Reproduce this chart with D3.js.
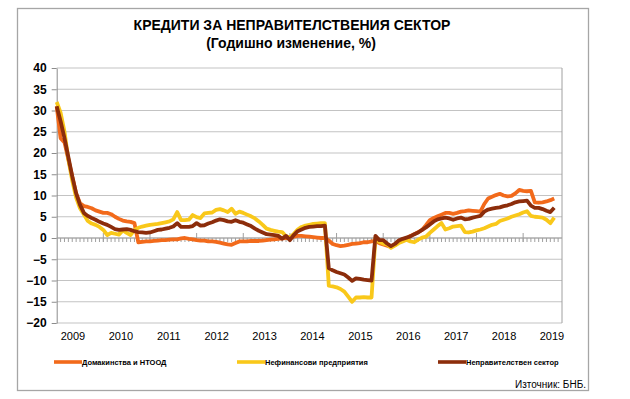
<!DOCTYPE html>
<meta charset="utf-8">
<head>
  <script src="https://d3js.org/d3.v7.min.js"></script>
  <style>
    body { margin: 0; background: #fff; }
    text { font-family: "Liberation Sans", Arial, sans-serif; }
  </style>
</head>
<body>
  <svg id="root"></svg>
  <script>
    // monthly data, Jan 2009 .. Sep 2019 (annual change, %)
    const startYear = 2009;
    const years = ["2009", "2010", "2011", "2012", "2013", "2014", "2015", "2016", "2017", "2018", "2019"];
    const yTicks = [-20, -15, -10, -5, 0, 5, 10, 15, 20, 25, 30, 35, 40];

    const households = [
      31, 23.5, 22.5, 18.5, 14.5, 10.5, 8.2, 7.5, 7.3, 7.0, 6.5, 6.2,
      5.9, 5.9, 5.6, 5.0, 4.5, 4.1, 3.9, 3.8, 3.5, -1.0, -0.9, -0.8,
      -0.8, -0.7, -0.6, -0.5, -0.5, -0.4, -0.3, -0.3, -0.1, 0.0, -0.2, -0.3,
      -0.5, -0.6, -0.6, -0.8, -0.8, -0.9, -1.1, -1.3, -1.5, -1.6, -1.2, -0.8,
      -0.8, -0.8, -0.7, -0.7, -0.7, -0.6, -0.5, -0.4, -0.3, -0.2, -0.1, 0.0,
      0.1, 0.3, 0.5, 0.5, 0.4, 0.3, 0.2, 0.1, 0.0, 0.0, -0.6, -1.4,
      -1.7, -1.9, -1.8, -1.6, -1.4, -1.3, -1.2, -1.0, -1.0, -0.8, -0.7, -1.2,
      -1.5, -1.8, -2.1, -1.6, -0.9, -0.6, -0.2, 0.5, 0.9, 1.4, 1.9, 3.0,
      4.2, 4.7, 5.1, 5.5, 5.9, 5.9, 5.7, 5.9, 6.2, 6.3, 6.5, 6.4,
      6.3, 6.2, 8.0, 9.3, 9.7, 10.1, 10.4, 10.0, 9.8, 9.9, 10.5, 11.3,
      11.1, 11.0, 11.1, 8.4, 8.3, 8.4, 8.6, 8.9, 9.3
    ];
    const corporates = [
      32, 29.5, 25, 18.5, 13.5, 9.5, 7.0, 5.5, 4.0, 3.4, 3.1, 2.6,
      1.9, 0.7, 1.2, 1.0, 0.8, 1.8, 1.2, 0.7, 1.9, 2.4, 2.7, 2.9,
      3.1, 3.2, 3.3, 3.5, 3.7, 3.9, 4.4, 6.1, 4.2, 4.2, 4.3, 5.4,
      4.9, 4.7, 5.8, 5.9, 6.0, 6.6, 6.8, 6.5, 6.1, 6.9, 5.7, 6.2,
      5.9, 5.5, 5.1, 4.6, 3.9, 3.1, 2.2, 1.9, 1.7, 1.5, 1.4, 0.4,
      0.1, 1.0, 2.0, 2.6, 2.9, 3.1, 3.3, 3.4, 3.5, 3.5, -11.2, -11.4,
      -11.6, -12.0, -12.6, -13.8, -15.0, -14.0, -14.0, -13.9, -14.0, -14.0, 0.0, -0.9,
      -1.3, -1.5, -2.3, -1.8, -1.2, -0.8, -0.4, -0.8, -1.0, -0.4, 0.1, 0.3,
      1.2, 2.0, 2.8, 3.5, 2.0, 2.3, 2.7, 2.8, 2.9, 1.4, 1.3, 1.5,
      1.8, 2.0, 2.3, 2.7, 3.1, 3.3, 4.0, 4.3, 4.6, 5.0, 5.3, 5.6,
      6.0, 6.3, 5.2, 5.0, 4.9, 4.8, 4.3, 3.5, 4.8
    ];
    const nonGov = [
      31, 27.5, 23.5, 19, 14.5, 10.5, 7.8, 5.9, 5.2, 4.7, 4.3, 3.8,
      3.4, 3.1, 2.6, 2.1, 1.9, 2.0, 2.1, 1.9, 1.6, 1.4, 1.3, 1.2,
      1.3, 1.6, 1.9, 2.0, 2.2, 2.4, 2.7, 3.5, 2.6, 2.6, 2.6, 2.8,
      3.5, 2.9, 3.0, 3.4, 3.7, 4.1, 4.4, 4.2, 3.9, 3.8, 4.2, 3.8,
      3.6, 3.2, 2.8, 2.2, 1.7, 1.3, 0.9, 0.8, 0.7, 0.5, -0.2, 0.5,
      -0.5, 0.7, 1.6, 2.0, 2.4, 2.6, 2.7, 2.8, 2.8, 2.9, -7.1, -7.6,
      -8.0, -8.3, -8.6, -9.3, -10.1, -9.5, -9.6, -9.8, -9.9, -10.0, 0.5, -0.5,
      -0.5, -1.3, -1.9, -1.4, -0.6, -0.2, 0.1, 0.4, 0.9, 1.3, 1.9, 2.5,
      3.2, 3.9, 4.4, 4.6, 4.8, 4.6, 4.3, 4.6, 4.8, 4.4, 4.5, 4.8,
      5.0, 5.2, 6.2, 6.7, 6.9, 7.1, 7.2, 7.5, 7.7, 8.0, 8.4, 8.6,
      8.7, 8.8, 7.6, 7.1, 7.1, 6.8, 6.4, 6.1, 7.1
    ];

    const series = [
      { name: "Домакинства и НТООД", values: households, color: "#f26a1b" },
      { name: "Нефинансови предприятия", values: corporates, color: "#f9c81a" },
      { name: "Неправителствен сектор", values: nonGov, color: "#8c2d0b" }
    ];

    const W = 630, H = 399;
    const plot = { left: 56.7, right: 562, top: 68, bottom: 323 };

    const svg = d3.select("#root").attr("width", W).attr("height", H);

    // outer frame
    svg.append("rect")
      .attr("x", 17.5).attr("y", 8.5)
      .attr("width", 571).attr("height", 382)
      .attr("fill", "#fff")
      .attr("stroke", "#a6a6a6")
      .attr("stroke-width", 1.3);

    // title
    svg.append("text")
      .attr("x", 292).attr("y", 30)
      .attr("text-anchor", "middle")
      .style("font-size", "14px").style("font-weight", "bold")
      .text("КРЕДИТИ ЗА НЕПРАВИТЕЛСТВЕНИЯ СЕКТОР");
    svg.append("text")
      .attr("x", 291).attr("y", 48)
      .attr("text-anchor", "middle")
      .style("font-size", "14px").style("font-weight", "bold")
      .text("(Годишно изменение, %)");

    // scales: x is month index from Jan 2009
    const nMonths = 130;
    const x = d3.scaleLinear([0, nMonths], [plot.left, plot.right]);
    const y = d3.scaleLinear([-20, 40], [plot.bottom, plot.top]);
    const xLabel = d3.scalePoint(years, [73, 552]);

    // gridlines
    svg.append("g")
      .selectAll("line")
      .data(yTicks)
      .join("line")
      .attr("x1", plot.left).attr("x2", plot.right)
      .attr("y1", d => y(d)).attr("y2", d => y(d))
      .attr("stroke", "#c3c3c3")
      .attr("stroke-width", 1);

    // right border
    svg.append("line")
      .attr("x1", plot.right).attr("x2", plot.right)
      .attr("y1", plot.top).attr("y2", plot.bottom)
      .attr("stroke", "#a0a0a0");

    // y axis
    const yAxis = d3.axisLeft(y).tickValues(yTicks).tickSize(5).tickSizeOuter(0);
    const gy = svg.append("g")
      .attr("transform", `translate(${plot.left},0)`)
      .call(yAxis);
    gy.select(".domain").attr("stroke", "#8c8c8c");
    gy.selectAll(".tick line").attr("stroke", "#8c8c8c");
    gy.selectAll(".tick text")
      .attr("x", -10)
      .style("font-family", "'Liberation Sans', Arial, sans-serif")
      .style("font-size", "12px").style("font-weight", "bold")
      .attr("fill", "#000");

    // x axis along zero: minor monthly ticks and yearly major ticks
    const zeroY = y(0);
    const gx = svg.append("g");
    gx.append("line")
      .attr("x1", plot.left).attr("x2", plot.right)
      .attr("y1", zeroY).attr("y2", zeroY)
      .attr("stroke", "#a0a0a0");
    gx.selectAll("line.minor")
      .data(d3.range(1, nMonths))
      .join("line")
      .attr("class", "minor")
      .attr("x1", d => x(d)).attr("x2", d => x(d))
      .attr("y1", zeroY).attr("y2", zeroY + 4)
      .attr("stroke", "#a0a0a0");
    gx.selectAll("line.major")
      .data(d3.range(12, nMonths, 12))
      .join("line")
      .attr("class", "major")
      .attr("x1", d => x(d)).attr("x2", d => x(d))
      .attr("y1", zeroY - 5).attr("y2", zeroY + 4)
      .attr("stroke", "#a0a0a0");

    // year labels
    svg.append("g")
      .selectAll("text")
      .data(years)
      .join("text")
      .attr("x", d => xLabel(d))
      .attr("y", 340)
      .attr("text-anchor", "middle")
      .style("font-size", "11px")
      .text(d => d);

    // lines
    const line = d3.line()
      .x((d, i) => x(i))
      .y(d => y(d));

    svg.append("g")
      .selectAll("path")
      .data(series)
      .join("path")
      .attr("fill", "none")
      .attr("stroke", d => d.color)
      .attr("stroke-width", 3.8)
      .attr("stroke-linejoin", "round")
      .attr("d", d => line(d.values));

    // legend
    const legendX = [54, 237, 438];
    const leg = svg.append("g")
      .selectAll("g")
      .data(series)
      .join("g")
      .attr("transform", (d, i) => `translate(${legendX[i]},362)`);
    leg.append("line")
      .attr("x1", 0).attr("x2", 28)
      .attr("stroke", d => d.color)
      .attr("stroke-width", 3.6);
    leg.append("text")
      .attr("x", 28).attr("y", 3)
      .style("font-size", "7.5px").style("font-weight", "bold")
      .text(d => d.name);

    // source
    svg.append("text")
      .attr("x", 586).attr("y", 388)
      .attr("text-anchor", "end")
      .style("font-size", "10px")
      .text("Източник: БНБ.")
  </script>
</body>
